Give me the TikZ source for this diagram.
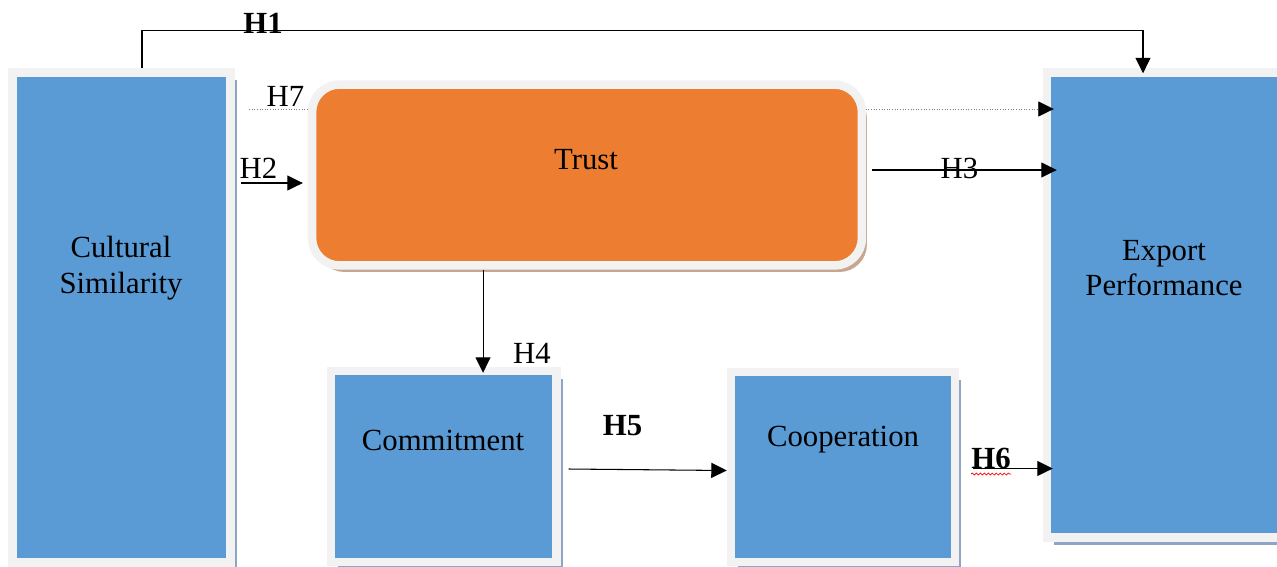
\documentclass[tikz,border=0pt]{standalone}
\usepackage{fontspec}
\setmainfont{Liberation Serif}
\usepackage{xcolor}
\usetikzlibrary{arrows.meta,calc,shadows,decorations.pathmorphing}
\definecolor{boxBlue}{HTML}{5B9BD5}
\definecolor{trustOrange}{HTML}{ED7D31}
\definecolor{frameGray}{HTML}{F2F2F2}
\definecolor{shadowBlue}{HTML}{8EA6C4}
\definecolor{shadowTan}{HTML}{C9A78E}
\begin{document}
\begin{tikzpicture}[x=0.02cm,y=-0.02cm,font=\fontsize{17.5}{20.4}\selectfont,
  blk/.style={rectangle,draw=frameGray,line width=0.17cm,fill=boxBlue,inner sep=0pt,
    drop shadow={shadow xshift=0.13cm,shadow yshift=-0.15cm,fill=shadowBlue,opacity=1}},
  rblk/.style={rectangle,rounded corners=0.55cm,draw=frameGray,line width=0.17cm,fill=trustOrange,inner sep=0pt,
    drop shadow={shadow xshift=0.1cm,shadow yshift=-0.13cm,fill=shadowTan,opacity=1}},
  arr/.style={line width=0.6pt,-{Triangle[length=0.31cm,width=0.3cm]}},
  dotarr/.style={gray,densely dotted,line width=0.5pt,-{Triangle[length=0.31cm,width=0.3cm,color=black]}},
  hyp/.style={anchor=base,inner sep=0pt}]
\useasboundingbox (0,0) rectangle (1277,566);
% --- boxes ---
\node[blk,minimum width=4.36cm,minimum height=9.8cm] (cs) at (121.5,317.5) {};
\node[blk,minimum width=4.76cm,minimum height=9.3cm] (ep) at (1166,305) {};
% H7 runs behind the trust box
\coordinate (h7a) at (249,109);
\draw[dotarr,shorten >=-0.22cm] (h7a) -- (h7a -| ep.west);
\node[rblk,minimum width=11cm,minimum height=3.62cm] (tr) at (587,175) {};
\node[blk,minimum width=4.51cm,minimum height=3.82cm] (cm) at (443.75,466.5) {};
\node[blk,minimum width=4.48cm,minimum height=3.8cm] (co) at (843,467) {};
\node[align=center] (cstext) at (121,268) {Cultural\\Similarity};
\node (trtext) at (586,160) {Trust};
\node[align=center] (eptext) at (1164,268) {Export\\Performance};
\node (cmtext) at (443,440) {Commitment};
\node (cotext) at (843,440) {Cooperation};
% --- paths ---
\draw[arr,shorten >=-0.1cm] ([xshift=0.41cm]cs.north) -- ++(0,-38) -| ([xshift=-0.46cm]ep.north);
\coordinate (h2a) at (241,183);
\draw[arr,shorten >=0.1cm] (h2a) -- (h2a -| tr.west);
\draw[arr,shorten >=-0.28cm] ([shift={(0.12cm,0.1cm)}]tr.east) coordinate (h3a) -- (h3a -| ep.west);
\draw[arr,shorten >=-0.12cm] ([xshift=-2.08cm]tr.south) coordinate (h4a) -- (h4a |- cm.north);
\draw[arr] ([shift={(0.16cm,-0.05cm)}]cm.east) -- ([yshift=-0.07cm]co.west);
\draw[arr,shorten >=-0.2cm] ([shift={(0.28cm,-0.03cm)}]co.east) coordinate (h6a) -- (h6a -| ep.west);
% --- labels ---
\node[hyp,font=\fontsize{17.5}{20.4}\selectfont\bfseries] (h1) at (263,33) {H1};
\node[hyp] (h7) at (285.5,106) {H7};
\node[hyp] (h2) at (258.5,178) {H2};
\node[hyp] (h3) at (959.5,178) {H3};
\node[hyp] (h4) at (532,363) {H4};
\node[hyp,font=\fontsize{17.5}{20.4}\selectfont\bfseries] (h5) at (622.5,435) {H5};
\node[hyp,font=\fontsize{17.5}{20.4}\selectfont\bfseries] (h6) at (991,468) {H6};
\draw[red,line width=0.4pt,decorate,decoration={snake,amplitude=0.02cm,segment length=0.08cm}]
  ([yshift=-0.12cm]h6.base west) -- ([yshift=-0.12cm]h6.base east);
\end{tikzpicture}
\end{document}
